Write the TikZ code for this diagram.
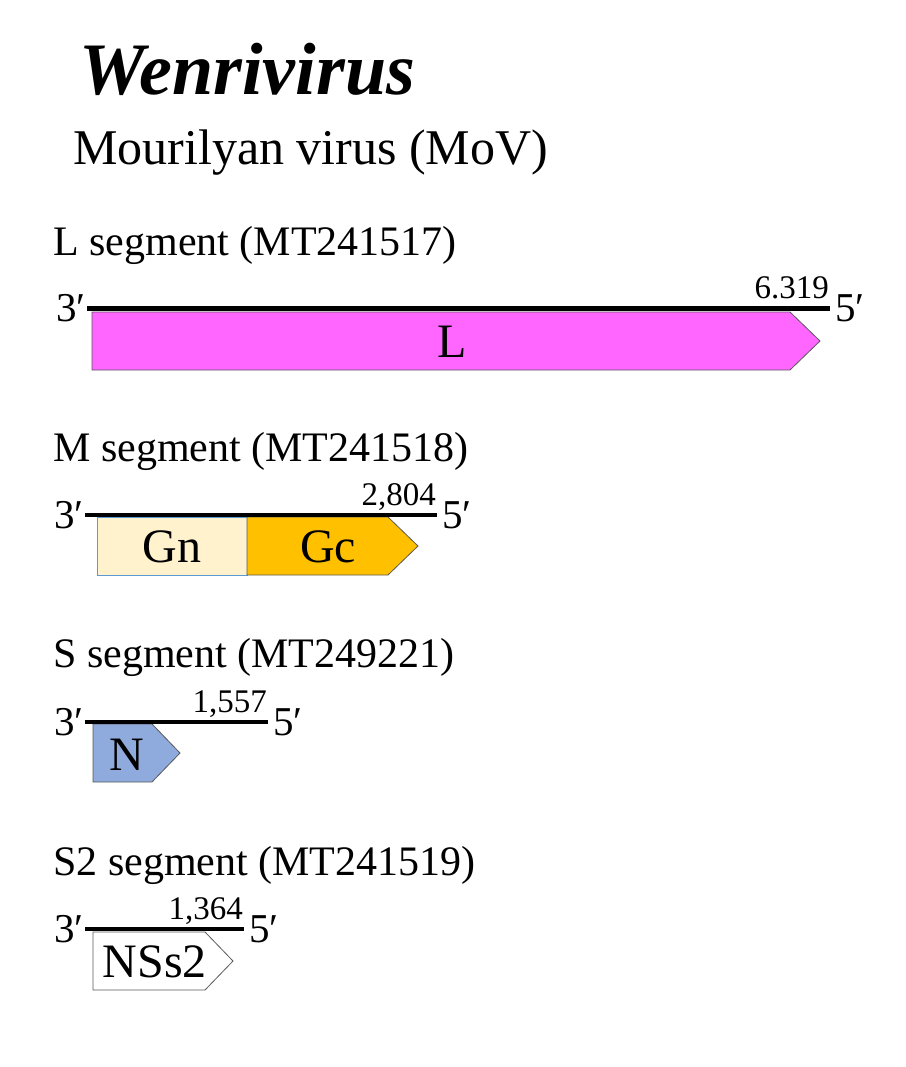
\documentclass[tikz,border=0pt]{standalone}
\usepackage{fontspec}
\setmainfont{Liberation Serif}
\usetikzlibrary{positioning}
\definecolor{Lpink}{HTML}{FF66FF}
\definecolor{Gnfill}{HTML}{FFF2CC}
\definecolor{Gnedge}{HTML}{5B9BD5}
\definecolor{Gcfill}{HTML}{FFC000}
\definecolor{Nfill}{HTML}{8FAADC}
\tikzset{
      seg line/.style={line width=4pt},
      gene box/.style={draw=gray!70!black, line width=0.8pt},
      gene label/.style={font=\fontsize{48}{50}\selectfont, inner sep=0pt},
      seg title/.style={anchor=base west, font=\fontsize{42}{45}\selectfont, inner sep=0pt},
      end label/.style={font=\fontsize{41}{43}\selectfont, inner sep=1pt},
      seg length/.style={anchor=base east, font=\fontsize{33}{35}\selectfont, inner sep=0pt, xshift=-1pt, yshift=10pt},
  	}
\begin{document}
\begin{tikzpicture}[x=1pt, y=-1pt]
    \useasboundingbox (0,0) rectangle (905,1067);
    % titles
    \node [anchor=base west, inner sep=0pt, font=\fontsize{74}{78}\selectfont\bfseries\itshape] (genus) at (79,95) {Wenrivirus};
    \node [anchor=base west, inner sep=0pt, font=\fontsize{50}{54}\selectfont] (virus) at (73,165) {Mourilyan virus (MoV)};

    % L segment
    \node [seg title] (Ltitle) at (53,255) {L segment (MT241517)};
    \coordinate (Lstart) at (87,308);
    \coordinate (Lend) at (830,308);
    \draw [gene box, fill=Lpink] (92,312) -- (790,312) -- (820,341) -- (790,370) -- (92,370) -- cycle;
    \node [gene label] (Lgene) at (452,342) {L};
    \draw [seg line, line width=5pt] (Lstart) -- (Lend);
    \node [end label, anchor=east] (L3) at (Lstart) {3′};
    \node [end label, anchor=west, xshift=4pt] (L5) at (Lend) {5′};
    \node [seg length] (Llen) at (Lend) {6.319};

    % M segment
    \node [seg title] (Mtitle) at (53,461) {M segment (MT241518)};
    \coordinate (Mstart) at (85,515);
    \coordinate (Mend) at (437,515);
    \draw [draw=Gnedge, line width=0.8pt, fill=Gnfill] (97,517) rectangle (247,575);
    \draw [gene box, fill=Gcfill] (247,517) -- (388,517) -- (418,546) -- (388,575) -- (247,575) -- cycle;
    \node [gene label] (Gn) at (172,547) {Gn};
    \node [gene label] (Gc) at (328,547) {Gc};
    \draw [seg line] (Mstart) -- (Mend);
    \node [end label, anchor=east] (M3) at (Mstart) {3′};
    \node [end label, anchor=west, xshift=4pt] (M5) at (Mend) {5′};
    \node [seg length] (Mlen) at (Mend) {2,804};

    % S segment
    \node [seg title] (Stitle) at (53,667) {S segment (MT249221)};
    \coordinate (Sstart) at (85,722);
    \coordinate (Send) at (268,722);
    \draw [gene box, fill=Nfill] (93,724) -- (152,724) -- (180,753) -- (152,782) -- (93,782) -- cycle;
    \node [gene label] (Ngene) at (127,755) {N};
    \draw [seg line] (Sstart) -- (Send);
    \node [end label, anchor=east] (S3) at (Sstart) {3′};
    \node [end label, anchor=west, xshift=4pt] (S5) at (Send) {5′};
    \node [seg length] (Slen) at (Send) {1,557};

    % S2 segment
    \node [seg title] (SStitle) at (53,875) {S2 segment (MT241519)};
    \coordinate (SSstart) at (85,929);
    \coordinate (SSend) at (244,929);
    \draw [gene box, fill=white] (93,932) -- (205,932) -- (233,961) -- (205,990) -- (93,990) -- cycle;
    \node [gene label] (NSs) at (155,962) {NSs2};
    \draw [seg line] (SSstart) -- (SSend);
    \node [end label, anchor=east] (SS3) at (SSstart) {3′};
    \node [end label, anchor=west, xshift=4pt] (SS5) at (SSend) {5′};
    \node [seg length] (SSlen) at (SSend) {1,364};
\end{tikzpicture}
\end{document}
